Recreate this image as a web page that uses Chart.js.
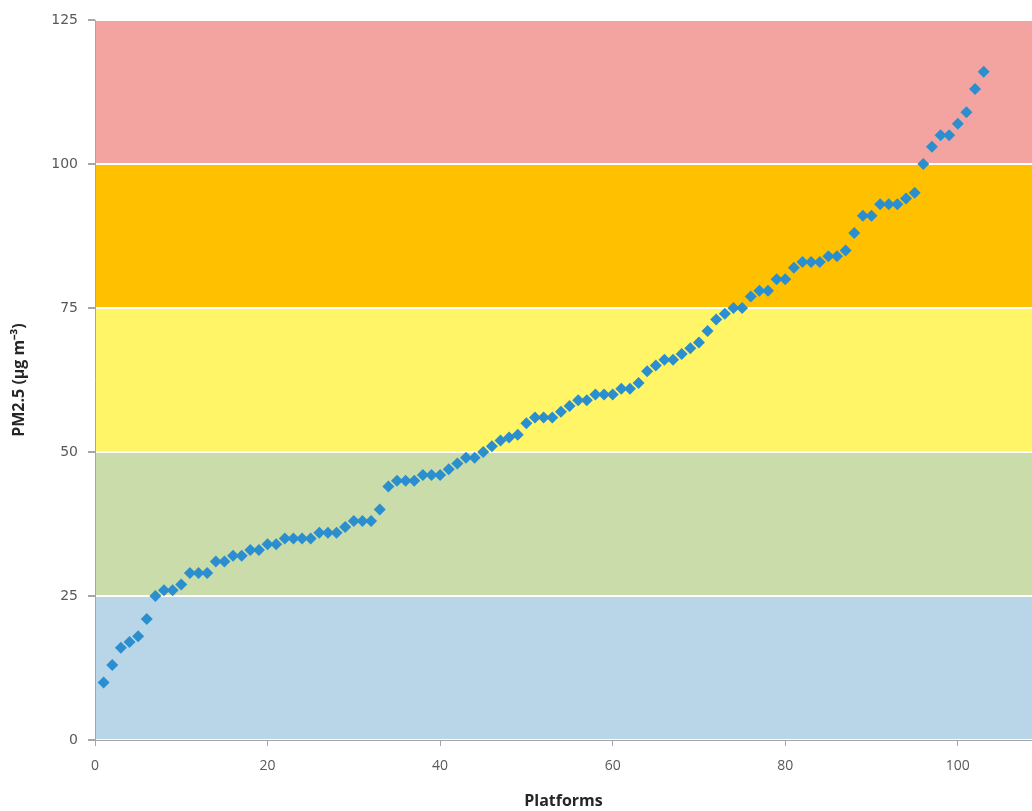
<!DOCTYPE html>
<html>
<head>
<meta charset="utf-8">
<script src="https://cdn.jsdelivr.net/npm/chart.js@4.4.1/dist/chart.umd.min.js"></script>
<style>
html,body{margin:0;padding:0;background:#fff;overflow:hidden;}
#wrap{width:1032px;height:811px;}
canvas{display:block;}
</style>
</head>
<body>
<div id="wrap"><canvas id="c" width="1032" height="811"></canvas></div>
<script>
const platforms = [];
for (let i = 1; i <= 103; i++) platforms.push(i);
const pm25 = [10,13,16,17,18,21,25,26,26,27,
  29,29,29,31,31,32,32,33,33,34,
  34,35,35,35,35,36,36,36,37,38,
  38,38,40,44,45,45,45,46,46,46,
  47,48,49,49,50,51,52,52.5,53,55,
  56,56,56,57,58,59,59,60,60,60,
  61,61,62,64,65,66,66,67,68,69,
  71,73,74,75,75,77,78,78,80,80,
  82,83,83,83,84,84,85,88,91,91,
  93,93,93,94,95,100,103,105,105,107,
  109,113,116];
const bandLimits = [0,25,50,75,100,125];
const bandColors = ['#b9d6e8','#c9dcaa','#fff566','#ffc000','#f4a4a0'];
const yTicks = [0,25,50,75,100,125];
const xTicks = [0,20,40,60,80,100];

const bandsPlugin = {
  id:'bands',
  beforeDraw(chart){
    const {ctx, chartArea, scales} = chart;
    const y = scales.y;
    ctx.save();
    for (let i = 0; i < bandColors.length; i++){
      const top = y.getPixelForValue(bandLimits[i+1]);
      const bot = y.getPixelForValue(bandLimits[i]);
      ctx.fillStyle = bandColors[i];
      ctx.fillRect(chartArea.left, top, chartArea.right - chartArea.left, bot - top);
    }
    ctx.restore();
  }
};

new Chart(document.getElementById('c'), {
  type:'scatter',
  data:{ datasets:[{
    data: platforms.map((p,i)=>({x:p, y:pm25[i]})),
    pointStyle:'rectRot',
    pointRadius:6,
    pointBackgroundColor:'#2b8fcf',
    pointBorderColor:'#2b8fcf',
    pointBorderWidth:0
  }]},
  options:{
    responsive:false,
    animation:false,
    layout:{autoPadding:false, padding:{left:0,right:0,top:20,bottom:0}},
    plugins:{legend:{display:false}, tooltip:{enabled:false}},
    scales:{
      x:{
        type:'linear', min:0, max:108.6,
        afterBuildTicks(s){ s.ticks = xTicks.map(v=>({value:v})); },
        afterFit(s){ s.height = 71; s.paddingRight = 0; s.paddingLeft = 0; },
        grid:{drawOnChartArea:false, drawTicks:true, tickLength:6, tickColor:'#a6a6a6'},
        border:{display:true, color:'#a6a6a6', width:1},
        ticks:{color:'#595959', font:{family:'Open Sans', size:14}, padding:12, maxRotation:0},
        title:{display:true, text:'Platforms', color:'#262626', font:{family:'Open Sans', size:16, weight:'bold'}, padding:{top:4,bottom:0}}
      },
      y:{
        min:0, max:125,
        afterBuildTicks(s){ s.ticks = yTicks.map(v=>({value:v})); },
        afterFit(s){ s.width = 95; },
        grid:{color:'#ffffff', lineWidth:2, drawTicks:true, tickLength:7, tickColor:'#a6a6a6'},
        border:{display:true, color:'#a6a6a6', width:1},
        ticks:{color:'#595959', font:{family:'DejaVu Sans', size:14}, padding:10},
        title:{display:true, text:'PM2.5 (µg m⁻³)', color:'#262626', font:{family:'Open Sans', size:16, weight:'bold'}, padding:{top:10,bottom:0}}
      }
    }
  },
  plugins:[bandsPlugin]
});
</script>
</body>
</html>
